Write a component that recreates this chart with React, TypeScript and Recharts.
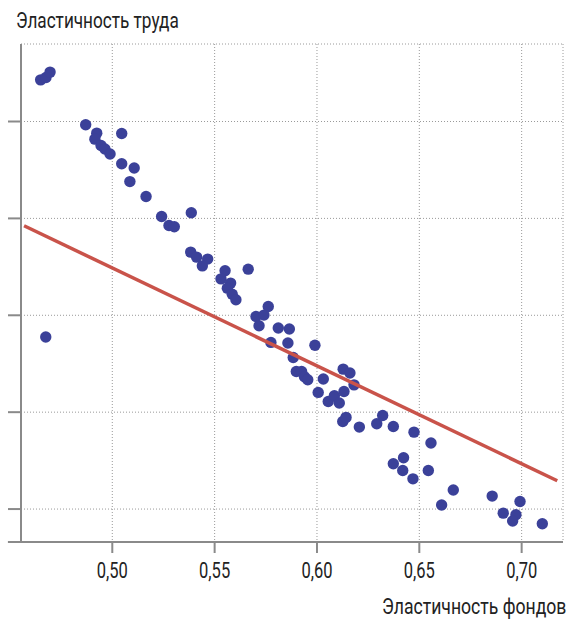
import { ScatterChart, Scatter, XAxis, YAxis, CartesianGrid, ReferenceLine } from "recharts";

// эластичность фондов (ось X)
const capitalElasticity = [
  0.465, 0.4676, 0.4696, 0.487, 0.4924, 0.4915, 0.5046, 0.4945, 0.4964, 0.4989,
  0.5046, 0.5107, 0.5086, 0.5165, 0.5241, 0.5386, 0.5277, 0.5303, 0.5383, 0.5412,
  0.5466, 0.544, 0.5551, 0.5664, 0.5531, 0.5578, 0.5562, 0.5586, 0.5604, 0.5762,
  0.5702, 0.5741, 0.5717, 0.5811, 0.5865, 0.5775, 0.5858, 0.599, 0.5884, 0.5899,
  0.5925, 0.5939, 0.5955, 0.6031, 0.6006, 0.6055, 0.6085, 0.6109, 0.6132, 0.6128,
  0.6161, 0.6181, 0.6126, 0.6142, 0.6207, 0.6292, 0.6321, 0.6373, 0.6474, 0.6557,
  0.6373, 0.6423, 0.6419, 0.6469, 0.6544, 0.6666, 0.6609, 0.6856, 0.6992, 0.691,
  0.6972, 0.6956, 0.7101, 0.4675,
];

// эластичность труда (ось Y)
const laborElasticity = [
  0.5215, 0.5227, 0.5255, 0.4983, 0.494, 0.4909, 0.4938, 0.4876, 0.4858, 0.4832,
  0.4782, 0.476, 0.469, 0.4613, 0.451, 0.4529, 0.4463, 0.4457, 0.4326, 0.43,
  0.429, 0.4255, 0.423, 0.4238, 0.4188, 0.4166, 0.414, 0.4109, 0.408, 0.4045,
  0.3994, 0.4001, 0.3946, 0.3934, 0.3929, 0.386, 0.3857, 0.3845, 0.3782, 0.371,
  0.371, 0.3683, 0.3667, 0.3671, 0.3602, 0.3555, 0.3585, 0.3547, 0.3607, 0.3722,
  0.3702, 0.3641, 0.3452, 0.3473, 0.3423, 0.344, 0.3483, 0.3426, 0.3397, 0.3341,
  0.3234, 0.3265, 0.3199, 0.3156, 0.3199, 0.3098, 0.3021, 0.3067, 0.3039, 0.2979,
  0.2971, 0.2938, 0.2924, 0.3888,
];

// линия регрессии
const trendX = [0.4569, 0.7174];
const trendY = [0.4462, 0.3146];

const xTicks = [0.5, 0.55, 0.6, 0.65, 0.7];
const yTicks = [0.3, 0.35, 0.4, 0.45, 0.5];

const points = capitalElasticity.map((x, i) => ({ x, y: laborElasticity[i] }));
const trend = trendX.map((x, i) => ({ x, y: trendY[i] }));

const FONT = 'Roboto, "DejaVu Sans Condensed", sans-serif';
const AXIS = "#8a8a8a";

const Dot = (props: any) => <circle cx={props.cx} cy={props.cy} r={5.7} fill="#3b4199" />;

// узкие подписи делений
const XTick = (props: any) => (
  <text
    transform={`translate(${props.x} ${props.y + 23}) scale(0.75 1)`}
    textAnchor="middle"
    fill="#222"
    fontSize={22}
    fontFamily={FONT}
  >
    {props.payload.value.toFixed(2).replace(".", ",")}
  </text>
);

const titleStyle: any = {
  position: "absolute",
  fontSize: 22,
  lineHeight: "22px",
  color: "#222",
  whiteSpace: "nowrap",
};

export default function App() {
  return (
    <div style={{ position: "absolute", left: 0, top: 0, width: 575, height: 619, background: "#fff", fontFamily: FONT }}>
      <ScatterChart width={575} height={619} margin={{ top: 44, right: 12, bottom: 0, left: 0 }}>
        <CartesianGrid stroke="#9a9a9a" strokeDasharray="1 2" />
        <XAxis
          type="number"
          dataKey="x"
          domain={[0.4554, 0.7202]}
          allowDataOverflow
          ticks={xTicks}
          height={77}
          tickSize={11}
          tickMargin={2}
          stroke={AXIS}
          strokeWidth={2}
          tick={XTick}
        />
        <YAxis
          type="number"
          dataKey="y"
          domain={[0.283, 0.54]}
          allowDataOverflow
          ticks={yTicks}
          width={21}
          tickSize={13}
          tick={() => <g />}
          stroke={AXIS}
          strokeWidth={2}
        />
        <ReferenceLine
          segment={[{ x: 0.449, y: 0.283 }, { x: 0.4554, y: 0.283 }]}
          stroke={AXIS}
          strokeWidth={2}
          ifOverflow="visible"
        />
        <Scatter data={points} shape={Dot} isAnimationActive={false} />
        <Scatter
          data={trend}
          line={{ stroke: "#c9534a", strokeWidth: 3.5 }}
          shape={() => null}
          isAnimationActive={false}
        />
      </ScatterChart>
      <div style={{ ...titleStyle, left: 16, top: 10, transform: "scaleX(0.78)", transformOrigin: "left" }}>
        Эластичность труда
      </div>
      <div style={{ ...titleStyle, right: 9, top: 596, transform: "scaleX(0.8)", transformOrigin: "right" }}>
        Эластичность фондов
      </div>
    </div>
  );
}
